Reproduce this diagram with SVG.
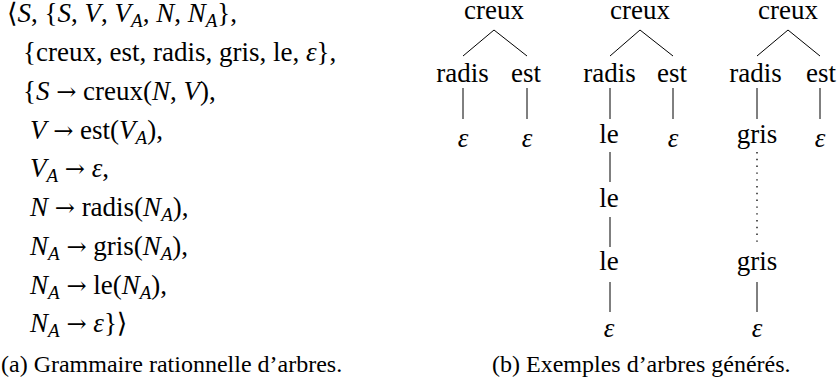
<svg xmlns="http://www.w3.org/2000/svg" width="838" height="389" viewBox="0 0 838 389">
<rect width="838" height="389" fill="#fff"/>
<g id="grammar" fill="#000">
<text font-family="Liberation Serif" font-size="27" x="7" y="22"><tspan font-family="DejaVu Serif">⟨</tspan><tspan font-style="italic">S</tspan>, {<tspan font-style="italic">S</tspan>, <tspan font-style="italic">V</tspan>, <tspan font-style="italic">V</tspan><tspan font-size="19" font-style="italic" dy="5">A</tspan><tspan dy="-5">, </tspan><tspan font-style="italic">N</tspan>, <tspan font-style="italic">N</tspan><tspan font-size="19" font-style="italic" dy="5">A</tspan><tspan dy="-5">},</tspan></text>
<text font-family="Liberation Serif" font-size="27" x="23" y="61">{creux, est, radis, gris, le, <tspan font-style="italic">ε</tspan>},</text>
<text font-family="Liberation Serif" font-size="27" x="23" y="99.5">{<tspan font-style="italic">S</tspan> <tspan font-family="DejaVu Serif" font-size="24">→</tspan> creux(<tspan font-style="italic">N</tspan>, <tspan font-style="italic">V</tspan>),</text>
<text font-family="Liberation Serif" font-size="27" x="30" y="138.5"><tspan font-style="italic">V</tspan> <tspan font-family="DejaVu Serif" font-size="24">→</tspan> est(<tspan font-style="italic">V</tspan><tspan font-size="19" font-style="italic" dy="5">A</tspan><tspan dy="-5">),</tspan></text>
<text font-family="Liberation Serif" font-size="27" x="30" y="177"><tspan font-style="italic">V</tspan><tspan font-size="19" font-style="italic" dy="5">A</tspan><tspan dy="-5"> </tspan><tspan font-family="DejaVu Serif" font-size="24">→</tspan> <tspan font-style="italic">ε</tspan>,</text>
<text font-family="Liberation Serif" font-size="27" x="30" y="216"><tspan font-style="italic">N</tspan> <tspan font-family="DejaVu Serif" font-size="24">→</tspan> radis(<tspan font-style="italic">N</tspan><tspan font-size="19" font-style="italic" dy="5">A</tspan><tspan dy="-5">),</tspan></text>
<text font-family="Liberation Serif" font-size="27" x="30" y="254.5"><tspan font-style="italic">N</tspan><tspan font-size="19" font-style="italic" dy="5">A</tspan><tspan dy="-5"> </tspan><tspan font-family="DejaVu Serif" font-size="24">→</tspan> gris(<tspan font-style="italic">N</tspan><tspan font-size="19" font-style="italic" dy="5">A</tspan><tspan dy="-5">),</tspan></text>
<text font-family="Liberation Serif" font-size="27" x="30" y="293.5"><tspan font-style="italic">N</tspan><tspan font-size="19" font-style="italic" dy="5">A</tspan><tspan dy="-5"> </tspan><tspan font-family="DejaVu Serif" font-size="24">→</tspan> le(<tspan font-style="italic">N</tspan><tspan font-size="19" font-style="italic" dy="5">A</tspan><tspan dy="-5">),</tspan></text>
<text font-family="Liberation Serif" font-size="27" x="30" y="332"><tspan font-style="italic">N</tspan><tspan font-size="19" font-style="italic" dy="5">A</tspan><tspan dy="-5"> </tspan><tspan font-family="DejaVu Serif" font-size="24">→</tspan> <tspan font-style="italic">ε</tspan>}<tspan font-family="DejaVu Serif">⟩</tspan></text>
</g>
<g id="connectors" stroke="#000" stroke-width="1" fill="none">
<path d="M494 30L463 56M494 30L527 56M463 88V119M527 88V119"/>
<path d="M640 30L610 56M640 30L673 56M610 88V119M673 88V119M610 152V182M610 217V247M610 282V312"/>
<path d="M788 30L757 56M788 30L820 56M757 88V119M820 88V119M757 282V312"/>
<path stroke-width="1.3" stroke-dasharray="1.4 5.4" d="M757 152V247"/>
</g>
<g id="tree1" fill="#000" text-anchor="middle">
<g id="t1-creux"><text font-family="Liberation Serif" font-size="27" x="494" y="19">creux</text></g>
<g id="t1-radis"><text font-family="Liberation Serif" font-size="27" x="462.5" y="82">radis</text></g>
<g id="t1-est"><text font-family="Liberation Serif" font-size="27" x="526" y="82">est</text></g>
<g id="t1-eps1"><text font-family="Liberation Serif" font-size="27" font-style="italic" x="463" y="147">ε</text></g>
<g id="t1-eps2"><text font-family="Liberation Serif" font-size="27" font-style="italic" x="527" y="147">ε</text></g>
</g>
<g id="tree2" fill="#000" text-anchor="middle">
<g id="t2-creux"><text font-family="Liberation Serif" font-size="27" x="640" y="19">creux</text></g>
<g id="t2-radis"><text font-family="Liberation Serif" font-size="27" x="609.5" y="82">radis</text></g>
<g id="t2-est"><text font-family="Liberation Serif" font-size="27" x="672" y="82">est</text></g>
<g id="t2-le1"><text font-family="Liberation Serif" font-size="27" x="609" y="143">le</text></g>
<g id="t2-eps1"><text font-family="Liberation Serif" font-size="27" font-style="italic" x="673" y="147">ε</text></g>
<g id="t2-le2"><text font-family="Liberation Serif" font-size="27" x="609" y="207">le</text></g>
<g id="t2-le3"><text font-family="Liberation Serif" font-size="27" x="609" y="270">le</text></g>
<g id="t2-eps2"><text font-family="Liberation Serif" font-size="27" font-style="italic" x="609" y="337">ε</text></g>
</g>
<g id="tree3" fill="#000" text-anchor="middle">
<g id="t3-creux"><text font-family="Liberation Serif" font-size="27" x="788" y="19">creux</text></g>
<g id="t3-radis"><text font-family="Liberation Serif" font-size="27" x="755.5" y="82">radis</text></g>
<g id="t3-est"><text font-family="Liberation Serif" font-size="27" x="821" y="82">est</text></g>
<g id="t3-gris1"><text font-family="Liberation Serif" font-size="27" x="757" y="143">gris</text></g>
<g id="t3-eps1"><text font-family="Liberation Serif" font-size="27" font-style="italic" x="820" y="147">ε</text></g>
<g id="t3-gris2"><text font-family="Liberation Serif" font-size="27" x="757" y="270">gris</text></g>
<g id="t3-eps2"><text font-family="Liberation Serif" font-size="27" font-style="italic" x="757" y="337">ε</text></g>
</g>
<g id="captions" fill="#000">
<text font-family="Liberation Serif" font-size="24" x="1" y="372">(a) Grammaire rationnelle d’arbres.</text>
<text font-family="Liberation Serif" font-size="24" x="492" y="372">(b) Exemples d’arbres générés.</text>
</g>
</svg>
